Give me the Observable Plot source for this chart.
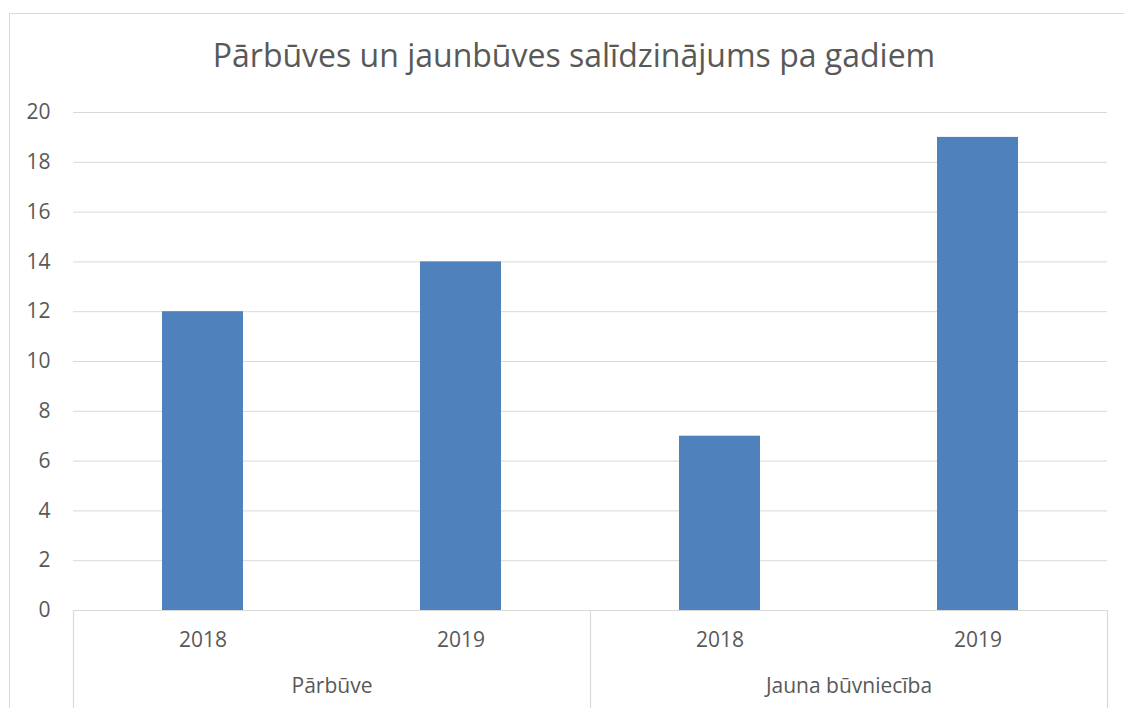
<!DOCTYPE html>
<html><head><meta charset="utf-8">
<script src="https://cdn.jsdelivr.net/npm/d3@7"></script>
<script src="https://cdn.jsdelivr.net/npm/@observablehq/plot@0.6"></script>
<style>
body{margin:0;background:#fff;font-family:"Open Sans",sans-serif;overflow:hidden;}
#frame{position:absolute;left:9px;top:13px;width:1200px;height:800px;border:1px solid #d9d9d9;}
#title{position:absolute;left:0;top:33px;width:1148px;text-align:center;font-size:32px;line-height:normal;color:#595959;font-family:"Open Sans",sans-serif;}
#chart{position:absolute;left:0;top:90px;}
</style></head><body>
<div id="frame"></div>
<div id="title">Pārbūves un jaunbūves salīdzinājums pa gadiem</div>
<div id="chart"></div>
<script>
const groups = ["Pārbūve", "Jauna būvniecība"];
const years = ["2018", "2019"];
const parbuveValues = [12, 14];
const jaunaValues = [7, 19];
const yTicks = [0, 2, 4, 6, 8, 10, 12, 14, 16, 18, 20];

const data = [
  ...years.map((y, i) => ({group: groups[0], year: y, value: parbuveValues[i]})),
  ...years.map((y, i) => ({group: groups[1], year: y, value: jaunaValues[i]}))
];

const chart = Plot.plot({
  width: 1124,
  height: 618,
  marginTop: 22,
  marginBottom: 98,
  marginLeft: 73,
  marginRight: 17,
  style: {fontFamily: "Open Sans", fontSize: "21px", color: "#595959", background: "transparent"},
  fx: {domain: groups, padding: 0, label: null},
  x: {domain: years, paddingInner: 0.687, paddingOuter: 0.3435, label: null},
  y: {domain: [0, 20], label: null},
  marks: [
    Plot.gridY(yTicks, {stroke: "#d9d9d9", strokeOpacity: 1}),
    Plot.barY(data, {fx: "group", x: "year", y: "value", fill: "#4F81BD"}),
    Plot.ruleY([0], {stroke: "#d9d9d9", strokeWidth: 1.2}),
    Plot.axisY(yTicks, {tickSize: 0, tickPadding: 23, label: null, fill: "#595959"}),
    Plot.axisX({tickSize: 0, tickPadding: 22, label: null, fill: "#595959"}),
    Plot.axisFx({anchor: "bottom", tickSize: 0, tickPadding: 68, label: null, fill: "#595959"})
  ]
});

document.getElementById("chart").appendChild(chart);

// category separators below the baseline, positioned from the fx scale
const fx = chart.scale("fx");
const y0 = chart.scale("y").apply(0);
const edges = groups.map(g => fx.apply(g));
edges.push(fx.apply(groups[groups.length - 1]) + fx.bandwidth);
const svg = d3.select(chart);
edges.forEach(x => {
  svg.append("line")
    .attr("x1", Math.round(x) + 0.5).attr("x2", Math.round(x) + 0.5)
    .attr("y1", y0).attr("y2", 618)
    .attr("stroke", "#d9d9d9").attr("stroke-width", 1.2);
});
</script>
</body></html>
